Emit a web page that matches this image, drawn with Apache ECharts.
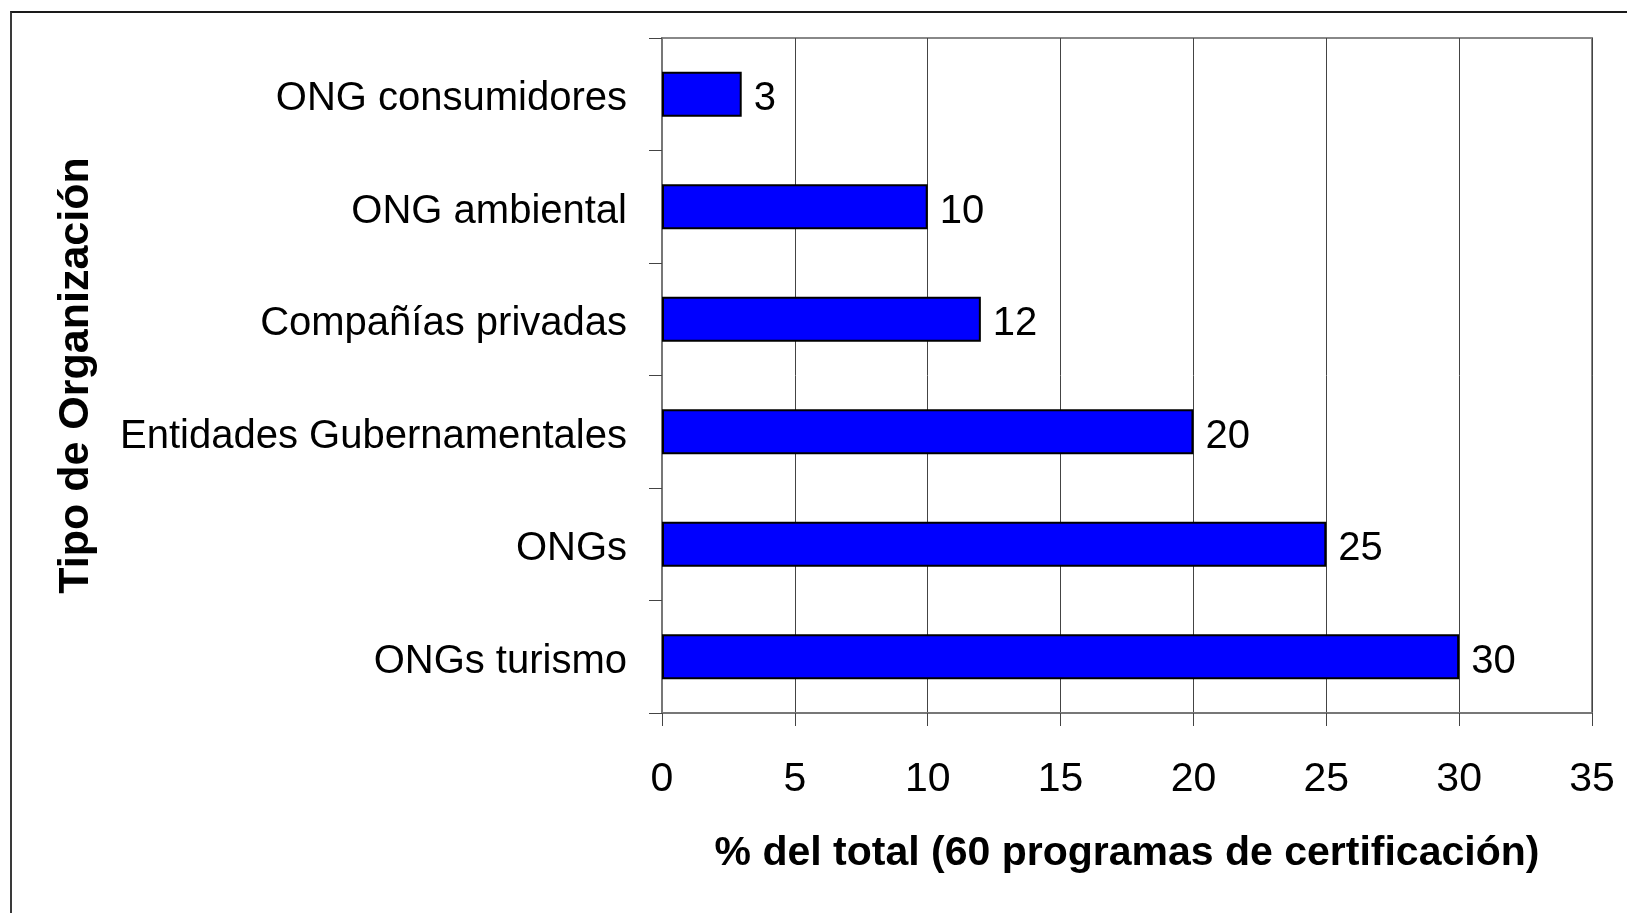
<!DOCTYPE html>
<html>
<head>
<meta charset="utf-8">
<title>Tipo de Organización</title>
<script src="https://cdn.jsdelivr.net/npm/echarts@6/dist/echarts.min.js"></script>
<style>
    html, body { margin: 0; padding: 0; background: #fff; overflow: hidden; }
    #chart { position: absolute; left: 0; top: 0; width: 1627px; height: 913px; }
    /* marco exterior: solo se ven el borde superior e izquierdo */
    .frame {
        position: absolute; left: 10px; top: 11px; width: 1700px; height: 1000px;
        border-top: 2px solid #1a1a1a; border-left: 2px solid #3a3a3a;
        pointer-events: none;
    }
</style>
</head>
<body>
<div id="chart"></div>
<div class="frame"></div>
<script>
// categorías de arriba hacia abajo
const categories = ['ONG consumidores', 'ONG ambiental', 'Compañías privadas', 'Entidades Gubernamentales', 'ONGs', 'ONGs turismo'];
const values = [3, 10, 12, 20, 25, 30];
const xTicks = [0, 5, 10, 15, 20, 25, 30, 35];

const font = '"Liberation Sans", Arial, sans-serif';

// texto un poco más bajo que el centro, como en el original
const lowered = {
    t: { fontFamily: font, fontSize: 40, color: '#000', padding: [10, 0, 0, 0] }
};

const chart = echarts.init(document.getElementById('chart'));

const option = {
    animation: false,
    backgroundColor: 'transparent',
    grid: {
        left: 662,
        right: 35,
        top: 38,
        bottom: 200,
        show: true,
        borderColor: '#888',
        borderWidth: 2
    },
    xAxis: {
        type: 'value',
        min: xTicks[0],
        max: xTicks[xTicks.length - 1],
        interval: 5,
        name: '% del total (60 programas de certificación)',
        nameLocation: 'middle',
        nameGap: 120,
        nameTextStyle: { fontFamily: font, fontSize: 41, fontWeight: 'bold', color: '#000' },
        axisLine: { show: true, lineStyle: { color: '#777', width: 2 } },
        axisTick: { show: true, length: 13, lineStyle: { color: '#444', width: 1 } },
        axisLabel: { fontFamily: font, fontSize: 41, color: '#000', margin: 46 },
        splitLine: { show: true, lineStyle: { color: '#444', width: 1 } }
    },
    yAxis: {
        type: 'category',
        data: categories,
        inverse: true,
        name: 'Tipo de Organización',
        nameLocation: 'middle',
        nameGap: 564,
        nameRotate: 90,
        nameTextStyle: { fontFamily: font, fontSize: 43, fontWeight: 'bold', color: '#000' },
        axisLine: { show: true, lineStyle: { color: '#777', width: 2 } },
        axisTick: { show: true, length: 13, lineStyle: { color: '#444', width: 1 } },
        axisLabel: {
            margin: 35,
            formatter: v => '{t|' + v + '}',
            rich: lowered
        },
        splitLine: { show: false }
    },
    series: [{
        type: 'bar',
        data: values,
        barWidth: 45,
        itemStyle: { color: '#0000ff', borderColor: '#000', borderWidth: 2 },
        label: {
            show: true,
            position: 'right',
            distance: 12,
            formatter: p => '{t|' + p.value + '}',
            rich: lowered
        }
    }]
};

chart.setOption(option);
</script>
</body>
</html>
